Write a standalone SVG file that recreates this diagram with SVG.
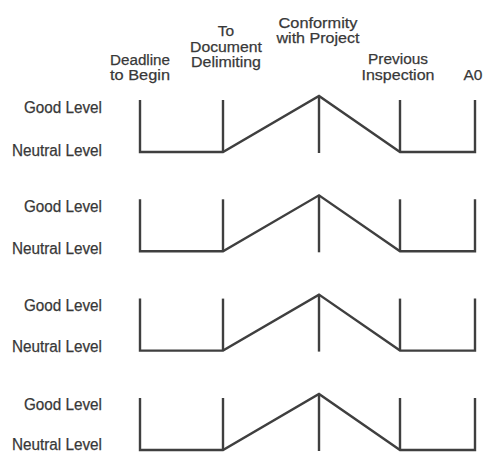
<svg xmlns="http://www.w3.org/2000/svg" width="483" height="455" viewBox="0 0 483 455">
  <style>
    .bg { fill: #ffffff; }
    text { font-family: "Liberation Sans", Arial, sans-serif; fill: #383838; stroke: #383838; stroke-width: 0.25; }
    .head { font-size: 15.5px; text-anchor: middle; }
    .lvl { font-size: 16px; text-anchor: end; }
    .trace { fill: none; stroke: #3f3f3f; stroke-width: 2.4; stroke-linejoin: miter; stroke-linecap: butt; }
  </style>
  <defs>
    <!-- one profile row: top of posts at y=0, baseline level at y=52 -->
    <g id="profile">
      <polyline class="trace" points="140,0 140,52 223,52 319,-4 400,52 475,52 475,0"/>
      <line class="trace" x1="223" y1="0" x2="223" y2="52"/>
      <line class="trace" x1="319" y1="-4" x2="319" y2="53"/>
      <line class="trace" x1="400" y1="0" x2="400" y2="52"/>
    </g>
  </defs>
  <rect class="bg" x="0" y="0" width="483" height="455"/>

  <!-- column headers -->
  <g id="col-deadline">
    <text class="head" x="140" y="65" textLength="60" lengthAdjust="spacingAndGlyphs">Deadline</text>
    <text class="head" x="140" y="80" textLength="60" lengthAdjust="spacingAndGlyphs">to Begin</text>
  </g>
  <g id="col-document">
    <text class="head" x="226" y="36">To</text>
    <text class="head" x="226" y="52" textLength="72" lengthAdjust="spacingAndGlyphs">Document</text>
    <text class="head" x="226" y="67" textLength="70" lengthAdjust="spacingAndGlyphs">Delimiting</text>
  </g>
  <g id="col-conformity">
    <text class="head" x="318" y="28" textLength="79" lengthAdjust="spacingAndGlyphs">Conformity</text>
    <text class="head" x="318" y="43" textLength="83" lengthAdjust="spacingAndGlyphs">with Project</text>
  </g>
  <g id="col-previous">
    <text class="head" x="398" y="64" textLength="60" lengthAdjust="spacingAndGlyphs">Previous</text>
    <text class="head" x="398" y="80" textLength="73" lengthAdjust="spacingAndGlyphs">Inspection</text>
  </g>
  <g id="col-a0">
    <text class="head" x="473" y="80">A0</text>
  </g>

  <!-- level labels -->
  <g id="labels">
    <text class="lvl" x="102" y="113" textLength="78" lengthAdjust="spacingAndGlyphs">Good Level</text>
    <text class="lvl" x="102" y="156" textLength="90" lengthAdjust="spacingAndGlyphs">Neutral Level</text>
    <text class="lvl" x="102" y="212" textLength="78" lengthAdjust="spacingAndGlyphs">Good Level</text>
    <text class="lvl" x="102" y="254" textLength="90" lengthAdjust="spacingAndGlyphs">Neutral Level</text>
    <text class="lvl" x="102" y="311" textLength="78" lengthAdjust="spacingAndGlyphs">Good Level</text>
    <text class="lvl" x="102" y="352" textLength="90" lengthAdjust="spacingAndGlyphs">Neutral Level</text>
    <text class="lvl" x="102" y="410" textLength="78" lengthAdjust="spacingAndGlyphs">Good Level</text>
    <text class="lvl" x="102" y="450" textLength="90" lengthAdjust="spacingAndGlyphs">Neutral Level</text>
  </g>

  <!-- profile rows -->
  <g id="connectors">
    <use href="#profile" transform="translate(0,100)"/>
    <use href="#profile" transform="translate(0,199.3)"/>
    <use href="#profile" transform="translate(0,298.6)"/>
    <use href="#profile" transform="translate(0,398)"/>
  </g>
</svg>
